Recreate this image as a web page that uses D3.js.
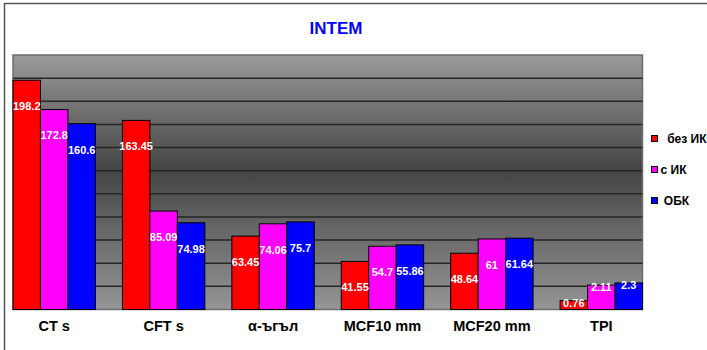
<!DOCTYPE html>
<html>
<head>
<meta charset="utf-8">
<script src="https://cdn.jsdelivr.net/npm/d3@7"></script>
<style>
  body { margin: 0; background: #fff; }
  text { font-family: Arial, "Liberation Sans", sans-serif; font-weight: bold; }
</style>
</head>
<body>
<div id="chart"></div>
<script>
const categories = ["CT s", "CFT s", "α-ъгъл", "MCF10 mm", "MCF20 mm", "TPI"];
const seriesNames = ["  без ИК", "с ИК", " ОБК"];
const seriesColors = ["#ff0000", "#ff00ff", "#0000ff"];
// plotted heights (TPI drawn at 10x in the original)
const bezIK = [198.2, 163.45, 63.45, 41.55, 48.64, 7.6];
const sIK = [172.8, 85.09, 74.06, 54.7, 61, 21.1];
const obk = [160.6, 74.98, 75.7, 55.86, 61.64, 23];
// shown labels
const bezIKLabels = ["198.2", "163.45", "63.45", "41.55", "48.64", "0.76"];
const sIKLabels = ["172.8", "85.09", "74.06", "54.7", "61", "2.11"];
const obkLabels = ["160.6", "74.98", "75.7", "55.86", "61.64", "2.3"];
const yTicks = [20, 40, 60, 80, 100, 120, 140, 160, 180, 200];

const series = [bezIK, sIK, obk];
const labels = [bezIKLabels, sIKLabels, obkLabels];

const W = 707, H = 350;
const margin = {top: 55, right: 64.5, bottom: 40.5, left: 13};
const width = W - margin.left - margin.right;
const height = H - margin.top - margin.bottom;

const svg = d3.select("#chart").append("svg")
    .attr("width", W).attr("height", H);

// outer frame
svg.append("path")
    .attr("d", "M4.5," + H + "V3.5H" + W)
    .attr("fill", "none").attr("stroke", "#555").attr("stroke-width", 1.5);

svg.append("text")
    .attr("x", 336).attr("y", 34)
    .attr("text-anchor", "middle")
    .attr("fill", "#0000ff")
    .style("font-size", "17px")
    .text("INTEM");

const defs = svg.append("defs");
const grad = defs.append("linearGradient")
    .attr("id", "bg").attr("x1", 0).attr("y1", 0).attr("x2", 0).attr("y2", 1);
grad.append("stop").attr("offset", "0%").attr("stop-color", "#9a9a9a");
grad.append("stop").attr("offset", "45%").attr("stop-color", "#444");
grad.append("stop").attr("offset", "100%").attr("stop-color", "#959595");

const g = svg.append("g")
    .attr("transform", "translate(" + margin.left + "," + margin.top + ")");

const x0 = d3.scaleBand()
    .domain(categories)
    .range([0, width])
    .paddingInner(0.247)
    .paddingOuter(0);
const x1 = d3.scaleBand()
    .domain(d3.range(series.length))
    .range([0, x0.bandwidth()]);
const y = d3.scaleLinear().domain([0, 220]).range([height, 0]);

g.append("rect")
    .attr("width", width).attr("height", height)
    .attr("fill", "url(#bg)")
    .attr("stroke", "#6e6e6e").attr("stroke-width", 1.5);

g.selectAll(".grid")
    .data(yTicks)
    .join("line")
    .attr("x1", 0).attr("x2", width)
    .attr("y1", d => y(d)).attr("y2", d => y(d))
    .attr("stroke", "#262626").attr("stroke-width", 1.5);

const groups = g.selectAll(".grp")
    .data(categories)
    .join("g")
    .attr("transform", d => "translate(" + x0(d) + ",0)");

groups.selectAll("rect")
    .data((c, i) => series.map((s, k) => ({k: k, v: s[i], label: labels[k][i]})))
    .join("rect")
    .attr("x", d => x1(d.k))
    .attr("y", d => y(d.v))
    .attr("width", x1.bandwidth())
    .attr("height", d => height - y(d.v))
    .attr("fill", d => seriesColors[d.k])
    .attr("stroke", "#000").attr("stroke-width", 1);

groups.selectAll(".lbl")
    .data((c, i) => series.map((s, k) => ({k: k, v: s[i], label: labels[k][i]})))
    .join("text")
    .attr("class", "lbl")
    .attr("x", d => x1(d.k) + x1.bandwidth() / 2)
    .attr("y", d => (height - y(d.v) < 40 ? y(d.v) + 2 : y(d.v) + 26))
    .attr("dy", "0.35em")
    .attr("text-anchor", "middle")
    .attr("fill", "#fff")
    .style("font-size", "11px")
    .text(d => d.label);

// category axis labels
g.append("g")
    .attr("transform", "translate(0," + height + ")")
    .call(d3.axisBottom(x0).tickSize(0).tickPadding(11))
    .call(a => a.select(".domain").remove())
    .selectAll("text")
    .attr("fill", "#000")
    .style("font-size", "14.5px")
    .style("font-family", "Arial, 'Liberation Sans', sans-serif")
    .style("font-weight", "bold");

// legend
const legend = svg.append("g").attr("transform", "translate(651.5,0)");
const items = legend.selectAll("g")
    .data(seriesNames)
    .join("g")
    .attr("transform", (d, i) => "translate(0," + (139 + i * 31) + ")");
items.append("rect")
    .attr("x", 0).attr("y", -3.5)
    .attr("width", 6).attr("height", 6)
    .attr("fill", (d, i) => seriesColors[i])
    .attr("stroke", "#000").attr("stroke-width", 1);
items.append("text")
    .attr("x", 9).attr("dy", "0.35em")
    .style("font-size", "12px")
    .style("white-space", "pre")
    .attr("fill", "#000")
    .text(d => d);
</script>
</body>
</html>
